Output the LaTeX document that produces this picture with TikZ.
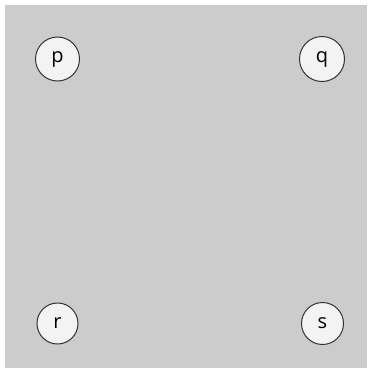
\documentclass[tikz,border=0pt]{standalone}
\usepackage{fontspec}
\setmainfont{Open Sans}
\definecolor{bg}{HTML}{CCCCCC}
\definecolor{nodefill}{HTML}{F3F3F3}
\definecolor{nodeline}{HTML}{333333}
\tikzset{
  vertex/.style={circle, draw=nodeline, fill=nodefill, line width=1pt, inner sep=0pt, font=\fontsize{20}{20}\selectfont}
}
\begin{document}
\begin{tikzpicture}[x=1pt,y=-1pt]
\useasboundingbox (0,0) rectangle (372,375);
\fill[bg] (5,5) rectangle (367,368);
\node[vertex, minimum size=44] (p) at (57.5,59) {p};
\node[vertex, minimum size=45] (q) at (322,59) {q};
\node[vertex, minimum size=41] (r) at (57.5,323.5) {r};
\node[vertex, minimum size=42] (s) at (322.5,323.5) {s};
\end{tikzpicture}
\end{document}
